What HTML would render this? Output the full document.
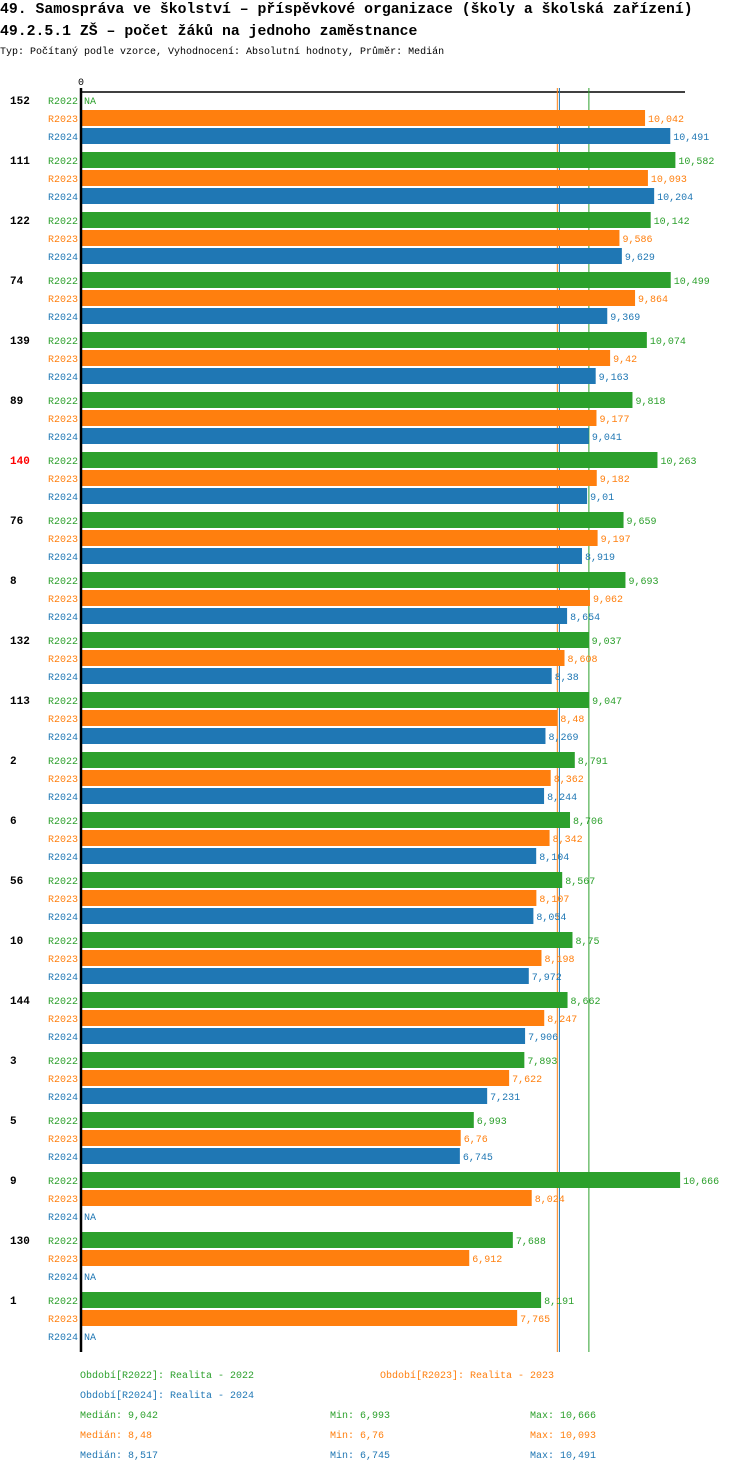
<!DOCTYPE html>
<html><head><meta charset="utf-8"><style>
body{margin:0;background:#fff;width:750px;height:1472px;overflow:hidden}
svg{display:block}
text{font-family:"Liberation Mono","DejaVu Sans Mono",monospace}
</style></head><body>
<svg id="c" width="750" height="1472">
<text x="0" y="13" font-size="14.8" font-weight="bold">49. Samospráva ve školství – příspěvkové organizace (školy a školská zařízení)</text>
<text x="0" y="35" font-size="14.8" font-weight="bold">49.2.5.1 ZŠ – počet žáků na jednoho zaměstnance</text>
<text x="0" y="54" font-size="10">Typ: Počítaný podle vzorce, Vyhodnocení: Absolutní hodnoty, Průměr: Medián</text>
<text x="81" y="85" font-size="10" text-anchor="middle">0</text>
<g id="bars"></g>
<g id="legend">
<text x="80" y="1378" font-size="10" fill="#2ca02c">Období[R2022]: Realita - 2022</text>
<text x="380" y="1378" font-size="10" fill="#ff7f0e">Období[R2023]: Realita - 2023</text>
<text x="80" y="1398" font-size="10" fill="#1f77b4">Období[R2024]: Realita - 2024</text>
</g>
</svg>
<script>
const categories=["152","111","122","74","139","89","140","76","8","132","113","2","6","56","10","144","3","5","9","130","1"];
const r2022=[null,10.582,10.142,10.499,10.074,9.818,10.263,9.659,9.693,9.037,9.047,8.791,8.706,8.567,8.75,8.662,7.893,6.993,10.666,7.688,8.191];
const r2023=[10.042,10.093,9.586,9.864,9.42,9.177,9.182,9.197,9.062,8.608,8.48,8.362,8.342,8.107,8.198,8.247,7.622,6.76,8.024,6.912,7.765];
const r2024=[10.491,10.204,9.629,9.369,9.163,9.041,9.01,8.919,8.654,8.38,8.269,8.244,8.104,8.054,7.972,7.906,7.231,6.745,null,null,null];
const seriesNames=["R2022","R2023","R2024"];
const highlight="140";

const colors=["#2ca02c","#ff7f0e","#1f77b4"];
const series=[r2022,r2023,r2024];
const x0=81, k=56.17;
const xs=v=>x0+v*k;
const topY=92, groupH=60, rowH=18, barH=16;
const NS="http://www.w3.org/2000/svg";
const g=document.getElementById('bars');
function mk(tag,attrs){const e=document.createElementNS(NS,tag);for(const a in attrs)e.setAttribute(a,attrs[a]);return e;}
const fmt=v=>String(+v.toFixed(3)).replace('.',',');
function median(a){const b=a.filter(v=>v!=null).sort((p,q)=>p-q);const n=b.length;return n%2?b[(n-1)/2]:(b[n/2-1]+b[n/2])/2;}
const bottomY=topY+categories.length*groupH;
let tl=mk('line',{x1:x0,x2:685,y1:topY,y2:topY,stroke:'#000','stroke-width':1.5});


g.appendChild(tl);
series.forEach((s,j)=>{
  const m=median(s);
  const ln=mk('line',{x1:xs(m),x2:xs(m),y1:88,y2:bottomY,stroke:colors[j],'stroke-width':1});
  
  
  g.appendChild(ln);
});
categories.forEach((c,i)=>{
  const gy=topY+i*groupH;
  const lab=mk('text',{x:10,y:gy+12,'font-size':11,'font-weight':'bold',fill:c===highlight?'#ff0000':'#000'});
  lab.textContent=c;
  
  
  g.appendChild(lab);
  series.forEach((s,j)=>{
    const y=gy+j*rowH;
    const sl=mk('text',{x:78,y:y+12,'font-size':10,fill:colors[j],'text-anchor':'end'});
    sl.textContent=seriesNames[j];
    
    
    g.appendChild(sl);
    const v=s[i];
    if(v==null){
      const na=mk('text',{x:x0+3,y:y+12,'font-size':10,fill:colors[j]});
      na.textContent='NA';
      
      
      g.appendChild(na);
    }else{
      const r=mk('rect',{x:x0,y:y,width:xs(v)-x0,height:barH,fill:colors[j]});
      
      
      g.appendChild(r);
      const vl=mk('text',{x:xs(v)+3,y:y+12,'font-size':10,fill:colors[j]});
      vl.textContent=fmt(v);
      
      
      g.appendChild(vl);
    }
  });
});
const ax=mk('line',{x1:x0,x2:x0,y1:88,y2:bottomY,stroke:'#000','stroke-width':2.5});


g.appendChild(ax);
const lg=document.getElementById('legend');
series.forEach((s,j)=>{
  const vals=s.filter(v=>v!=null);
  const y=1418+j*20;
  const items=[[80,'Medián: '+fmt(median(s))],[330,'Min: '+fmt(Math.min(...vals))],[530,'Max: '+fmt(Math.max(...vals))]];
  items.forEach(([x,t],q)=>{
    const e=mk('text',{x:x,y:y,'font-size':10,fill:colors[j]});
    e.textContent=t;
    
    
    lg.appendChild(e);
  });
});
</script>
</body></html>
